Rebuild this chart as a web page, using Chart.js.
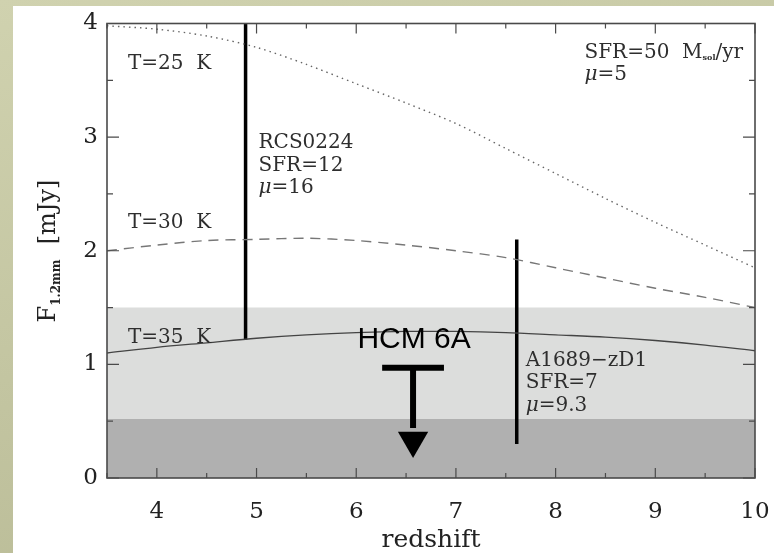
<!DOCTYPE html>
<html>
<head>
<meta charset="utf-8">
<script src="https://cdn.jsdelivr.net/npm/chart.js@4"></script>
<style>
  html, body { margin: 0; width: 774px; height: 553px; overflow: hidden; }
  body { position: relative; background: linear-gradient(165deg, #d0d2af 0%, #b6b893 100%); }
  #plot { position: absolute; left: 13px; top: 6px; background: #fff; }
</style>
</head>
<body>
<canvas id="plot" width="761" height="547"></canvas>
<script>
// model curves, F(1.2mm) vs redshift, SFR=50 Msol/yr, mu=5
const redshift = [3.5, 4, 4.5, 5, 5.5, 6, 6.5, 7, 7.5, 8, 8.5, 9, 9.5, 10];
const fluxT25 = [3.98, 3.95, 3.89, 3.79, 3.64, 3.47, 3.30, 3.12, 2.90, 2.68, 2.46, 2.25, 2.05, 1.85];
const fluxT30 = [2.00, 2.05, 2.09, 2.10, 2.11, 2.09, 2.05, 2.00, 1.94, 1.85, 1.76, 1.67, 1.59, 1.50];
const fluxT35 = [1.10, 1.15, 1.19, 1.23, 1.26, 1.28, 1.29, 1.29, 1.28, 1.26, 1.24, 1.21, 1.17, 1.12];

// lensed sources: redshift and flux range
const rcsZ = 4.89, rcsFlux = [1.22, 4.0];
const a1689Z = 7.61, a1689Flux = [0.30, 2.10];

// HCM 6A upper limit
const hcmZ = 6.57, hcmLimit = 0.97, hcmBarZ = [6.26, 6.88], hcmArrowEnd = 0.44, hcmArrowHead = 0.33;

// sensitivity bands
const bandLight = 1.5, bandDark = 0.52;
const zRange = [3.5, 10];

const pts = (xs, ys) => xs.map((x, i) => ({ x, y: ys[i] }));
const vline = (x, r) => [{ x, y: r[0] }, { x, y: r[1] }];
const hline = (r, y) => [{ x: r[0], y }, { x: r[1], y }];

const SERIF = '"DejaVu Serif", serif';

const notes = [
  { x: 3.71, y: 3.60, lines: [[['T=25  K', 'r']]] },
  { x: 3.71, y: 2.20, lines: [[['T=30  K', 'r']]] },
  { x: 3.71, y: 1.19, lines: [[['T=35  K', 'r']]] },
  { x: 5.02, y: 2.90, lines: [[['RCS0224', 'r']], [['SFR=12', 'r']], [['μ', 'i'], ['=16', 'r']]] },
  { x: 7.70, y: 0.99, lines: [[['A1689−zD1', 'r']], [['SFR=7', 'r']], [['μ', 'i'], ['=9.3', 'r']]] },
  { x: 8.29, y: 3.70, lines: [[['SFR=50  M', 'r'], ['sol', 's'], ['/yr', 'r']], [['μ', 'i'], ['=5', 'r']]] }
];

const drawSegs = (ctx, segs, x, y) => {
  for (const [t, st] of segs) {
    if (st === 'i') ctx.font = 'italic 20px ' + SERIF;
    else if (st === 's') ctx.font = 'bold 8px ' + SERIF;
    else ctx.font = '20px ' + SERIF;
    ctx.fillText(t, x, st === 's' ? y + 2 : y);
    x += ctx.measureText(t).width;
  }
};

// inward ticks on all four sides + box
const frameTicks = {
  id: 'frameTicks',
  afterDatasetsDraw(chart) {
    const { ctx, chartArea: a, scales: { x, y } } = chart;
    ctx.save();
    ctx.strokeStyle = '#4a4a4a';
    ctx.lineWidth = 1.2;
    ctx.beginPath();
    for (const t of x.ticks) {
      const px = x.getPixelForValue(t.value);
      const len = Number.isInteger(t.value) ? 10 : 5;
      ctx.moveTo(px, a.bottom); ctx.lineTo(px, a.bottom - len);
      ctx.moveTo(px, a.top); ctx.lineTo(px, a.top + len);
    }
    for (const t of y.ticks) {
      const py = y.getPixelForValue(t.value);
      const len = Number.isInteger(t.value) ? 12 : 6;
      ctx.moveTo(a.left, py); ctx.lineTo(a.left + len, py);
      ctx.moveTo(a.right, py); ctx.lineTo(a.right - len, py);
    }
    ctx.stroke();
    ctx.lineWidth = 1.6;
    ctx.strokeRect(a.left, a.top, a.right - a.left, a.bottom - a.top);
    ctx.restore();
  }
};

const annotations = {
  id: 'annotations',
  afterDatasetsDraw(chart) {
    const { ctx, scales: { x, y } } = chart;
    ctx.save();
    ctx.fillStyle = '#2e2e2e';
    ctx.textAlign = 'left';
    ctx.textBaseline = 'alphabetic';
    for (const n of notes) {
      const px = x.getPixelForValue(n.x);
      let py = y.getPixelForValue(n.y);
      for (const line of n.lines) {
        drawSegs(ctx, line, px, py);
        py += 22.5;
      }
    }
    ctx.fillStyle = '#000';
    ctx.textAlign = 'center';
    ctx.font = '30px "Liberation Sans", Arial, sans-serif';
    ctx.fillText('HCM 6A', x.getPixelForValue(6.58), y.getPixelForValue(1.14));
    ctx.restore();
  }
};

// y axis title with subscript
const yTitle = {
  id: 'yTitle',
  afterDraw(chart) {
    const { ctx } = chart;
    const parts = [['F', '24px ' + SERIF, 0], ['1.2mm', 'bold 12px ' + SERIF, 5], ['  [mJy]', '24px ' + SERIF, 0]];
    ctx.save();
    ctx.fillStyle = '#222';
    ctx.textBaseline = 'alphabetic';
    let w = 0;
    for (const p of parts) { ctx.font = p[1]; w += ctx.measureText(p[0]).width; }
    ctx.translate(42, 245);
    ctx.rotate(-Math.PI / 2);
    let cx = -w / 2;
    for (const p of parts) {
      ctx.font = p[1];
      ctx.fillText(p[0], cx, p[2]);
      cx += ctx.measureText(p[0]).width;
    }
    ctx.restore();
  }
};

const lineStyle = { showLine: true, pointRadius: 0, fill: false, tension: 0.3 };
const barStyle = { showLine: true, pointRadius: 0, fill: false, borderColor: '#000', borderCapStyle: 'butt' };

new Chart(document.getElementById('plot'), {
  type: 'scatter',
  data: {
    datasets: [
      { ...lineStyle, label: 'T=25 K', data: pts(redshift, fluxT25), borderColor: '#666', borderWidth: 1.4, borderDash: [1.5, 4] },
      { ...lineStyle, label: 'T=30 K', data: pts(redshift, fluxT30), borderColor: '#777', borderWidth: 1.4, borderDash: [10, 7] },
      { ...lineStyle, label: 'T=35 K', data: pts(redshift, fluxT35), borderColor: '#444', borderWidth: 1.3 },
      { ...barStyle, label: 'RCS0224', data: vline(rcsZ, rcsFlux), borderWidth: 3.5 },
      { ...barStyle, label: 'A1689-zD1', data: vline(a1689Z, a1689Flux), borderWidth: 3.5 },
      { ...barStyle, label: 'HCM 6A limit', data: hline(hcmBarZ, hcmLimit), borderWidth: 6 },
      { ...barStyle, label: 'HCM 6A arrow', data: vline(hcmZ, [hcmLimit, hcmArrowEnd]), borderWidth: 6 },
      { label: 'HCM 6A head', data: [{ x: hcmZ, y: hcmArrowHead }], pointStyle: 'triangle', rotation: 180,
        pointRadius: 17.5, backgroundColor: '#000', borderWidth: 0 },
      { label: 'dark band', data: hline(zRange, bandDark), showLine: true, pointRadius: 0, borderWidth: 0,
        fill: 'origin', backgroundColor: '#b0b0b0' },
      { label: 'light band', data: hline(zRange, bandLight), showLine: true, pointRadius: 0, borderWidth: 0,
        fill: 'origin', backgroundColor: '#dcdddc' }
    ]
  },
  options: {
    responsive: false,
    animation: false,
    devicePixelRatio: 1,
    layout: { padding: { left: 0, top: 16, right: 19, bottom: 0 } },
    plugins: { legend: { display: false }, tooltip: { enabled: false } },
    scales: {
      x: {
        type: 'linear', min: 3.5, max: 10,
        grid: { display: false, drawTicks: false },
        border: { display: false },
        ticks: {
          stepSize: 0.5, padding: 20, color: '#222', font: { family: SERIF, size: 23 },
          callback: v => Number.isInteger(v) ? v : ''
        },
        title: { display: true, text: 'redshift', color: '#222', font: { family: SERIF, size: 25, lineHeight: 1 }, padding: 0 },
        afterFit: s => { s.height = 75; s.paddingLeft = 0; s.paddingRight = 0; }
      },
      y: {
        type: 'linear', min: 0, max: 4,
        grid: { display: false, drawTicks: false },
        border: { display: false },
        ticks: {
          stepSize: 0.5, padding: 9, color: '#222', font: { family: SERIF, size: 23 },
          callback: v => Number.isInteger(v) ? v : ''
        },
        afterFit: s => { s.width = 94; s.paddingTop = 0; s.paddingBottom = 0; }
      }
    }
  },
  plugins: [frameTicks, annotations, yTitle]
});
</script>
</body>
</html>
